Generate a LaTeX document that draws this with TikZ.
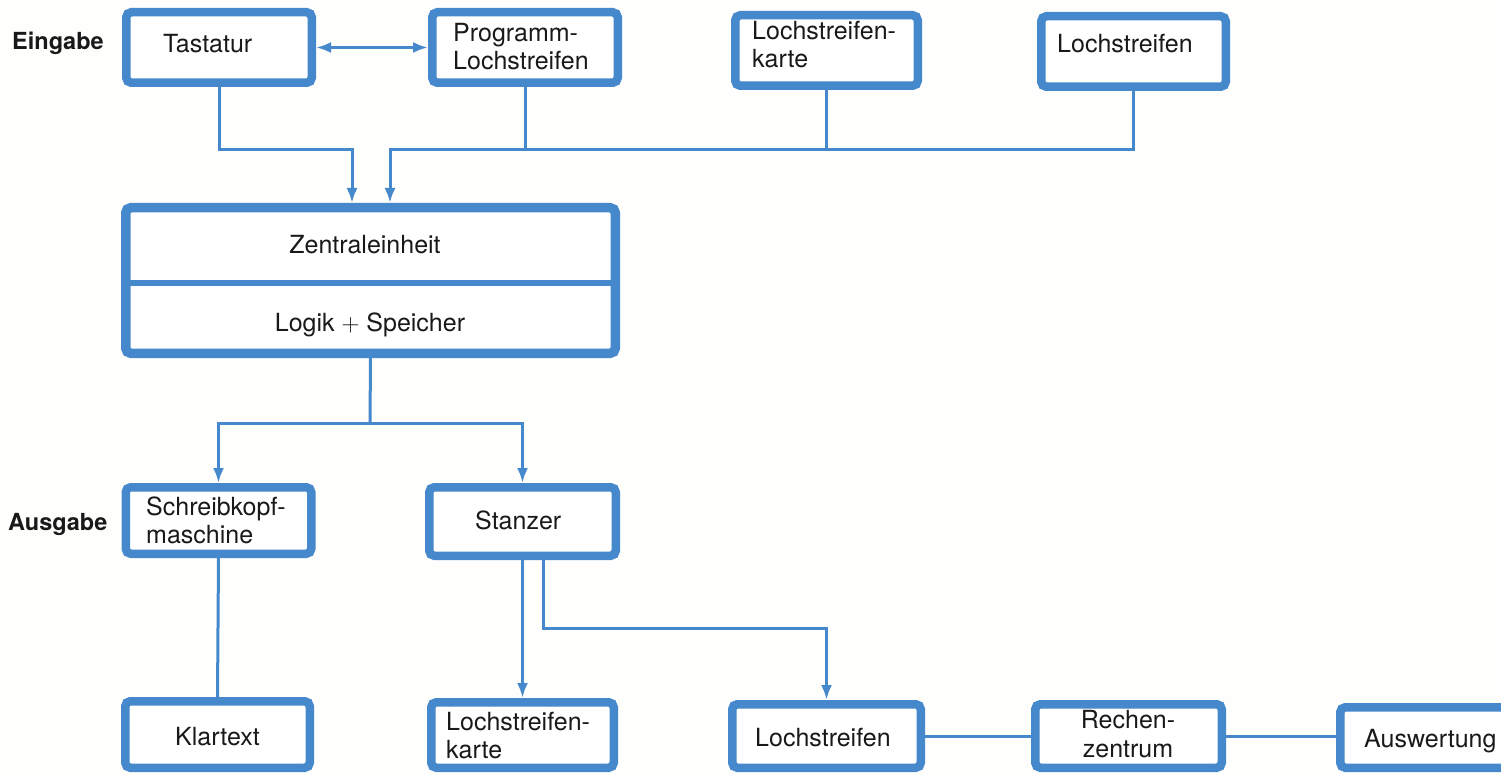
\documentclass[tikz,border=0pt]{standalone}
\usepackage{fontspec}
\setmainfont{TeX Gyre Heros}
\usetikzlibrary{arrows.meta,calc}
\definecolor{hpblue}{RGB}{70,136,204}
\definecolor{paper}{RGB}{254,254,252}
\definecolor{ink}{RGB}{25,25,25}
\tikzset{
  box/.style={draw=hpblue, line width=8.5pt, rounded corners=5pt, fill=white, inner sep=0pt},
  lbl/.style={anchor=base west, inner sep=0pt, text=ink, font=\fontsize{25}{30}\selectfont},
  blbl/.style={lbl, font=\fontsize{23.5}{28}\selectfont\bfseries},
  clbl/.style={lbl, anchor=base},
  conn/.style={draw=hpblue, line width=3pt},
  arr/.style={conn, -{Latex[length=15pt,width=11pt]}},
  darr/.style={conn, {Latex[length=15pt,width=11pt]}-{Latex[length=15pt,width=11pt]}}
}
\begin{document}
\begin{tikzpicture}[x=1pt,y=-1pt]
\useasboundingbox (0,0) rectangle (1501,775);
\clip (0,0) rectangle (1501,775);
\fill[paper] (0,0) rectangle (1501,775);

% boxes
\node[box, minimum width=185.5pt, minimum height=70.5pt] (tast) at (219,47.5) {};
\node[box, minimum width=185.5pt, minimum height=70.5pt] (prog) at (525,47.5) {};
\node[box, minimum width=182.5pt, minimum height=70.5pt] (kart1) at (826.5,50.5) {};
\node[box, minimum width=184.5pt, minimum height=70.5pt] (loch1) at (1133.5,51.5) {};
\node[box, line width=9.5pt, minimum width=489.5pt, minimum height=145.5pt] (zent) at (370.5,280.5) {};
\node[box, minimum width=185.5pt, minimum height=66.5pt] (schr) at (218.5,520.5) {};
\node[box, minimum width=186.5pt, minimum height=68.5pt] (stanz) at (522.5,521.5) {};
\node[box, minimum width=184.5pt, minimum height=66.5pt] (klar) at (217.5,734.5) {};
\node[box, minimum width=182.5pt, minimum height=65.5pt] (kart2) at (522.5,735) {};
\node[box, minimum width=188.5pt, minimum height=63.5pt] (loch2) at (826.5,736) {};
\node[box, minimum width=186.5pt, minimum height=63.5pt] (rech) at (1128.5,736) {};
\node[box, minimum width=175.5pt, minimum height=60.5pt] (ausw) at (1428,737.5) {};

% divider of the central unit
\draw[draw=hpblue, line width=6pt] ([xshift=4pt]zent.west |- 0,283) -- ([xshift=-4pt]zent.east |- 0,283);

% texts
\node[blbl] (teing) at (12,50) {Eingabe};
\node[blbl] (taus) at (8,530) {Ausgabe};
\node[lbl] (ttast) at (163,53) {Tastatur};
\node[lbl] (tprog1) at (453,42) {Programm-};
\node[lbl] (tprog2) at (453,70) {Lochstreifen};
\node[lbl] (tkart1a) at (752,40) {Lochstreifen-};
\node[lbl] (tkart1b) at (752,68) {karte};
\node[lbl] (tloch1) at (1057,53) {Lochstreifen};
\node[clbl] (tzent) at (365,254) {Zentraleinheit};
\node[clbl] (tlogik) at (370,331) {Logik $+$ Speicher};
\node[lbl] (tschr1) at (146,515) {Schreibkopf-};
\node[lbl] (tschr2) at (146,543) {maschine};
\node[lbl] (tstanz) at (475,529) {Stanzer};
\node[lbl] (tklar) at (175,745) {Klartext};
\node[lbl] (tkart2a) at (446,730) {Lochstreifen-};
\node[lbl] (tkart2b) at (446,758) {karte};
\node[lbl] (tloch2) at (755,746) {Lochstreifen};
\node[clbl] (trech1) at (1128,728) {Rechen-};
\node[clbl] (trech2) at (1128,757) {zentrum};
\node[lbl] (tausw) at (1364,747) {Auswertung};

% junctions
\coordinate (jl) at (352,150);
\coordinate (jr) at (390,150);
\coordinate (jz) at (370,423);
\coordinate (js) at (826.5,628);

% input connectors
\draw[darr] (tast.east) -- (prog.west);
\draw[arr] (tast.south) |- (jl) -- (jl |- zent.north);
\draw[arr] (loch1.south) |- (jr) -- (jr |- zent.north);
\draw[conn] (prog.south) -- (prog.south |- jr);
\draw[conn] (kart1.south) -- (kart1.south |- jr);

% output connectors
\draw[conn] (zent.south) -- (jz);
\draw[arr] (jz) -| (schr.north);
\draw[arr] (jz) -| (stanz.north);
\draw[conn] (schr.south) -- (klar.north);
\draw[arr] (stanz.south) -- (kart2.north);
\draw[arr] ([xshift=21pt]stanz.south) |- (js) -- (loch2.north);
\draw[conn] (loch2.east) -- (rech.west);
\draw[conn] (rech.east) -- (ausw.west |- rech.east);
\end{tikzpicture}
\end{document}
